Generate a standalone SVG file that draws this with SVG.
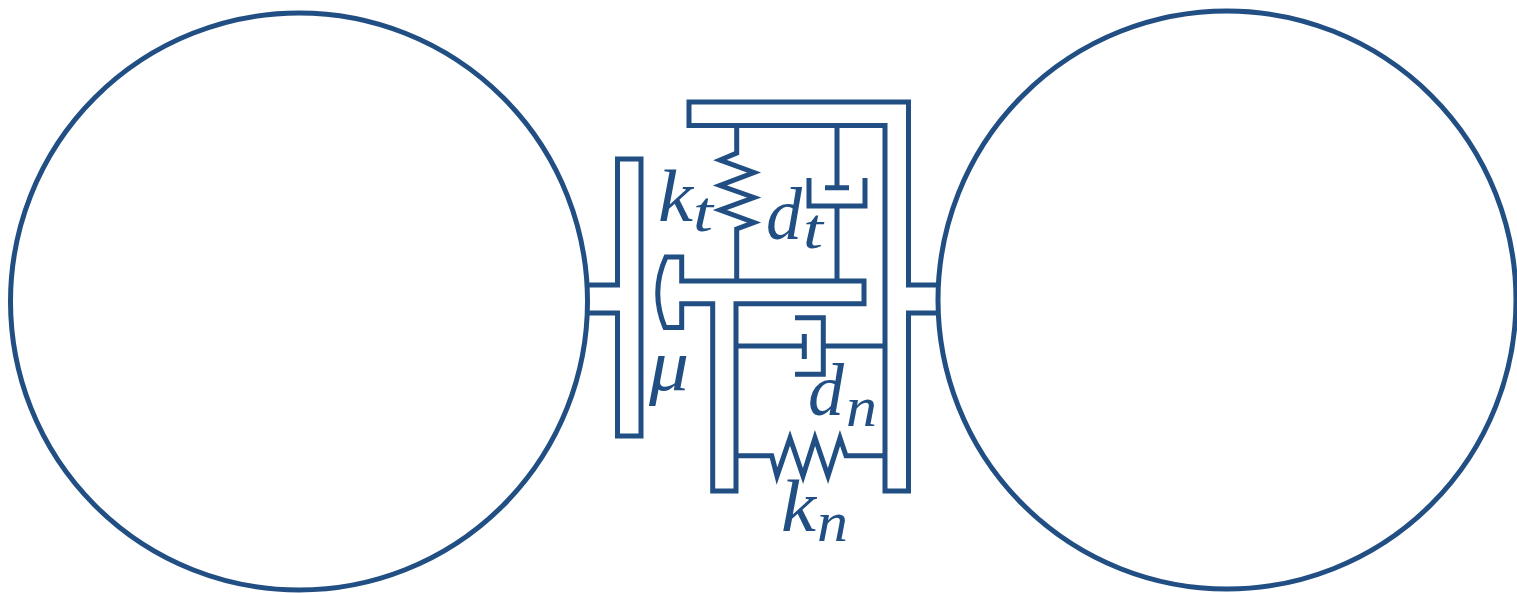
<svg xmlns="http://www.w3.org/2000/svg" width="1517" height="593" viewBox="0 0 1517 593">
<style>
.s{fill:none;stroke:#214e83;stroke-width:5;stroke-miterlimit:8}
.m{font-family:"Liberation Serif","DejaVu Serif",serif;font-style:italic;fill:#214e83;font-size:74px}
.b{font-size:56px}
</style>
<rect width="1517" height="593" fill="#fff"/>
<g id="left-disc"><circle class="s" cx="299" cy="301.500" r="288.500"/></g>
<g id="right-disc"><circle class="s" cx="1227" cy="300" r="289"/></g>
<g id="left-plate"><path class="s" d="M588 285H617.500V159H641V436H617.500V313H588"/></g>
<g id="t-piece"><path class="s" d="M681.700 281V257H666Q650 292 665 327.500H681.700V303.700H712.700V491H736V303.700H864V281Z"/></g>
<g id="right-body"><path class="s" d="M938 285H908.500V102H689V125.500H885V491H908.500V313H938"/></g>
<g id="connectors">
<path class="s" d="M736.700 125.500V153L720 160L754 172.500L720 185.500L754 197.500L720 210L754 222.500L736.700 229V281"/>
<path class="s" d="M837 125.500V187.700M825 187.700H849M809 178V206H865V178M837 206V281"/>
<path class="s" d="M736 346H804.300M804.300 334V359M795 317.700H823.300V374.300H795M823.300 346H885"/>
<path class="s" d="M736 455.700H771.700L777 476L790 438L803 476L815 438L828 476L840 438L846 455.700H885"/>
</g>
<g id="labels">
<text class="m" x="658" y="221" textLength="35" lengthAdjust="spacingAndGlyphs">k</text><text class="m b" x="693" y="231" textLength="20" lengthAdjust="spacingAndGlyphs">t</text>
<text class="m" x="766" y="239" textLength="36" lengthAdjust="spacingAndGlyphs">d</text><text class="m b" x="803" y="248" textLength="20" lengthAdjust="spacingAndGlyphs">t</text>
<text class="m" x="649" y="390" textLength="40" lengthAdjust="spacingAndGlyphs">μ</text>
<text class="m" x="808" y="415" textLength="36" lengthAdjust="spacingAndGlyphs">d</text><text class="m b" x="846" y="426" textLength="31" lengthAdjust="spacingAndGlyphs">n</text>
<text class="m" x="781" y="531" textLength="35" lengthAdjust="spacingAndGlyphs">k</text><text class="m b" x="817" y="541" textLength="31" lengthAdjust="spacingAndGlyphs">n</text>
</g>
</svg>
